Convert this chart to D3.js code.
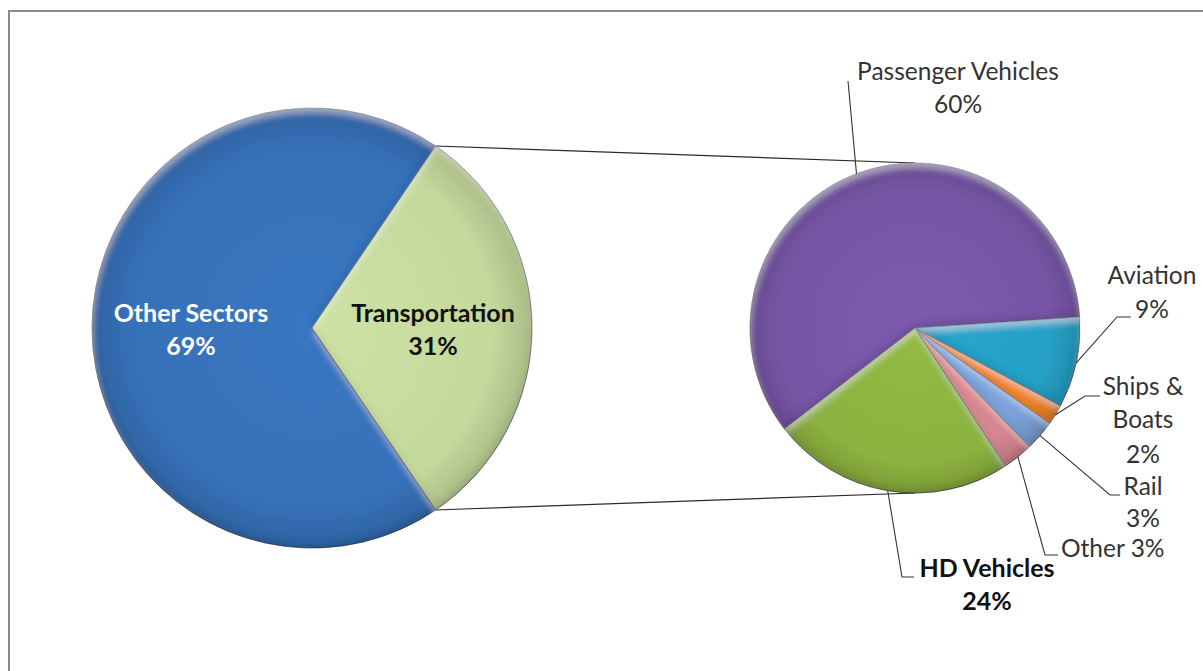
<!DOCTYPE html>
<html>
<head>
<meta charset="utf-8">
<script src="https://cdn.jsdelivr.net/npm/d3@7"></script>
<style>
  html, body { margin: 0; padding: 0; background: #ffffff; }
  svg { display: block; }
  text { font-family: Lato, "Open Sans", "DejaVu Sans", sans-serif; }
</style>
</head>
<body>
<svg id="chart" width="1203" height="671"></svg>
<script>
// Share of emissions: all sectors, then transportation broken down by mode
const mainCategories = ["Other Sectors", "Transportation"];
const mainValues = [69, 31];
const mainColors = ["#3671b9", "#c4d99c"];
const mainTextColors = ["#ffffff", "#111111"];

const subCategories = ["Passenger Vehicles", "Aviation", "Ships & Boats", "Rail", "Other", "HD Vehicles"];
const subValues = [60, 9, 2, 3, 3, 24];
const subColors = ["#7756a6", "#27a0c6", "#f0852a", "#7aa2d8", "#d68690", "#8db23f"];
const subBold = [false, false, false, false, false, true];

// how each breakdown label is broken into lines
function subLabelLines(name, value) {
  const pct = value + "%";
  if (name === "Ships & Boats") return ["Ships &", "Boats", pct];
  if (name === "Other") return [name + " " + pct];
  return [name, pct];
}

// layout of the breakdown labels: text anchor and leader elbow
const subLabelLayout = [
  { x: 958,  y: 80,  gaps: [33],     anchor: "middle", elbow: [[848, 81]] },
  { x: 1152, y: 284, gaps: [34],     anchor: "middle", elbow: [[1117, 317], [1131, 317]] },
  { x: 1143, y: 395, gaps: [33, 35], anchor: "middle", elbow: [[1085, 396], [1100, 396]] },
  { x: 1143, y: 495, gaps: [32],     anchor: "middle", elbow: [[1110, 495], [1120, 495]] },
  { x: 1061, y: 557, gaps: [],       anchor: "start",  elbow: [[1045, 555], [1058, 555]] },
  { x: 987,  y: 577, gaps: [33],     anchor: "middle", elbow: [[902, 577], [914, 577]] }
];

const svg = d3.select("#chart");
const defs = svg.append("defs");

// frame
svg.append("rect")
  .attr("x", 9).attr("y", 11)
  .attr("width", 1210).attr("height", 680)
  .attr("fill", "none")
  .attr("stroke", "#8a8a8a")
  .attr("stroke-width", 2);

// soft inner bevel: light rim on upper edges, shade on lower edges
const bevel = defs.append("filter").attr("id", "bevel")
  .attr("x", "-8%").attr("y", "-8%").attr("width", "116%").attr("height", "116%");
bevel.append("feGaussianBlur").attr("in", "SourceAlpha").attr("stdDeviation", 3).attr("result", "blur");
bevel.append("feOffset").attr("in", "blur").attr("dx", 1).attr("dy", 5).attr("result", "down");
bevel.append("feComposite").attr("in", "SourceAlpha").attr("in2", "down").attr("operator", "out").attr("result", "hiMask");
bevel.append("feFlood").attr("flood-color", "#ffffff").attr("flood-opacity", 0.32).attr("result", "hiCol");
bevel.append("feComposite").attr("in", "hiCol").attr("in2", "hiMask").attr("operator", "in").attr("result", "hi");
bevel.append("feOffset").attr("in", "blur").attr("dx", -1).attr("dy", -5).attr("result", "up");
bevel.append("feComposite").attr("in", "SourceAlpha").attr("in2", "up").attr("operator", "out").attr("result", "loMask");
bevel.append("feFlood").attr("flood-color", "#000000").attr("flood-opacity", 0.22).attr("result", "loCol");
bevel.append("feComposite").attr("in", "loCol").attr("in2", "loMask").attr("operator", "in").attr("result", "lo");
const merge = bevel.append("feMerge");
merge.append("feMergeNode").attr("in", "SourceGraphic");
merge.append("feMergeNode").attr("in", "hi");
merge.append("feMergeNode").attr("in", "lo");

function radialFill(id, r, color) {
  const c = d3.color(color);
  const g = defs.append("radialGradient").attr("id", id)
    .attr("gradientUnits", "userSpaceOnUse")
    .attr("cx", 0).attr("cy", 0).attr("r", r);
  g.append("stop").attr("offset", "0%").attr("stop-color", c.brighter(0.12));
  g.append("stop").attr("offset", "82%").attr("stop-color", c);
  g.append("stop").attr("offset", "100%").attr("stop-color", c.darker(0.4));
  return "url(#" + id + ")";
}

const deg = Math.PI / 180;
const edgePt = (a, r, cx, cy) => [cx + r * Math.sin(a), cy - r * Math.cos(a)];

// ---- main pie ----
const main = { cx: 312, cy: 328, r: 220 };
const mainPie = d3.pie().sort(null).startAngle(145.8 * deg).endAngle(505.8 * deg);
const mainArcs = mainPie(mainValues);
const mainArc = d3.arc().innerRadius(0).outerRadius(main.r);
const mainLabelArc = d3.arc().innerRadius(main.r * 0.55).outerRadius(main.r * 0.55);

// ---- breakdown pie ----
const sub = { cx: 915, cy: 328, r: 165 };
const subPie = d3.pie().sort(null).startAngle(232.3 * deg).endAngle(592.3 * deg);
const subArcs = subPie(subValues);
const subArc = d3.arc().innerRadius(0).outerRadius(sub.r);

// connectors from the transportation slice to the breakdown pie
const tr = mainArcs[1];
const trTop = edgePt(tr.startAngle, main.r, main.cx, main.cy);
const trBot = edgePt(tr.endAngle, main.r, main.cx, main.cy);
svg.append("g").selectAll("line")
  .data([[trTop, [sub.cx, sub.cy - sub.r]], [trBot, [sub.cx, sub.cy + sub.r]]])
  .join("line")
  .attr("x1", d => d[0][0]).attr("y1", d => d[0][1])
  .attr("x2", d => d[1][0]).attr("y2", d => d[1][1])
  .attr("stroke", "#2a2a2a").attr("stroke-width", 1.1);

const gMain = svg.append("g").attr("transform", `translate(${main.cx},${main.cy})`);
gMain.selectAll("path").data(mainArcs).join("path")
  .attr("d", mainArc)
  .attr("fill", (d, i) => radialFill("mg" + i, main.r, mainColors[i]))
  .attr("stroke", "rgba(20,30,50,0.6)").attr("stroke-width", 1)
  .attr("filter", "url(#bevel)");

gMain.selectAll("text").data(mainArcs).join("text")
  .attr("transform", d => { const [x, y] = mainLabelArc.centroid(d); return `translate(${x},${y})`; })
  .attr("text-anchor", "middle")
  .attr("fill", (d, i) => mainTextColors[i])
  .attr("font-weight", "bold")
  .attr("font-size", 25)
  .each(function (d, i) {
    const t = d3.select(this);
    t.append("tspan").attr("x", 0).attr("y", -6).text(mainCategories[i]);
    t.append("tspan").attr("x", 0).attr("y", 27).text(d.value + "%");
  });

const gSub = svg.append("g").attr("transform", `translate(${sub.cx},${sub.cy})`);
gSub.selectAll("path").data(subArcs).join("path")
  .attr("d", subArc)
  .attr("fill", (d, i) => radialFill("sg" + i, sub.r, subColors[i]))
  .attr("stroke", "rgba(20,20,40,0.6)").attr("stroke-width", 1)
  .attr("filter", "url(#bevel)");

// leader lines and labels of the breakdown pie
const leaders = svg.append("g");
const labels = svg.append("g");
subArcs.forEach((d, i) => {
  const mid = (d.startAngle + d.endAngle) / 2;
  const start = edgePt(mid, sub.r, sub.cx, sub.cy);
  const L = subLabelLayout[i];
  leaders.append("path")
    .attr("d", d3.line()([start].concat(L.elbow)))
    .attr("fill", "none")
    .attr("stroke", "#333333")
    .attr("stroke-width", 1.1);
  const lines = subLabelLines(subCategories[i], d.value);
  const t = labels.append("text")
    .attr("text-anchor", L.anchor)
    .attr("font-size", subBold[i] ? 25 : 24.5)
    .attr("font-weight", subBold[i] ? "bold" : "normal")
    .attr("fill", subBold[i] ? "#111111" : "#333333");
  let y = L.y;
  lines.forEach((s, k) => {
    if (k > 0) y += L.gaps[k - 1];
    t.append("tspan").attr("x", L.x).attr("y", y).text(s);
  });
});
</script>
</body>
</html>
